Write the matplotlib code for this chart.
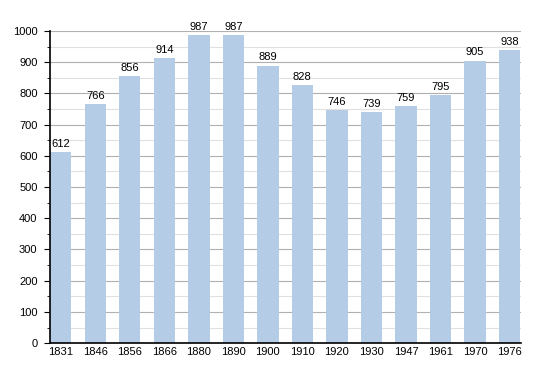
import matplotlib
matplotlib.use("Agg")
import matplotlib.pyplot as plt
import numpy as np
from matplotlib.ticker import MultipleLocator

years = ["1831", "1846", "1856", "1866", "1880", "1890", "1900",
         "1910", "1920", "1930", "1947", "1961", "1970", "1976"]
population = [612, 766, 856, 914, 987, 987, 889,
              828, 746, 739, 759, 795, 905, 938]

plt.rcParams["font.family"] = ["Liberation Sans", "DejaVu Sans"]

fig = plt.figure(figsize=(5.5, 3.73), dpi=100)
ax = fig.add_axes([0.091, 0.080, 0.856, 0.837])

x = np.arange(len(years))
w = 0.62
ax.bar(x, population, width=w, color="#b4cce6", zorder=2)
for xi, v in zip(x, population):
    ax.text(xi, v + 10, str(v), ha="center", va="bottom", fontsize=8, zorder=3)

ax.set_xlim(-w / 2, len(years) - 1 + w / 2 + 0.02)
ax.set_ylim(0, 1000)
ax.set_xticks(x)
ax.set_xticklabels(years)
ax.yaxis.set_major_locator(MultipleLocator(100))
ax.yaxis.set_minor_locator(MultipleLocator(50))
ax.grid(axis="y", which="major", color="#b0b0b0", linewidth=0.8, zorder=1)
ax.grid(axis="y", which="minor", color="#e0e0e0", linewidth=0.8, zorder=1)

ax.spines["top"].set_visible(False)
ax.spines["right"].set_visible(False)
ax.spines["left"].set_linewidth(1.2)
ax.spines["bottom"].set_linewidth(1.2)
ax.tick_params(axis="x", length=0, labelsize=8, pad=3)
ax.tick_params(axis="y", which="major", length=4, labelsize=8, pad=5)
ax.tick_params(axis="y", which="minor", length=2)

fig.savefig("out.png", dpi=100)
